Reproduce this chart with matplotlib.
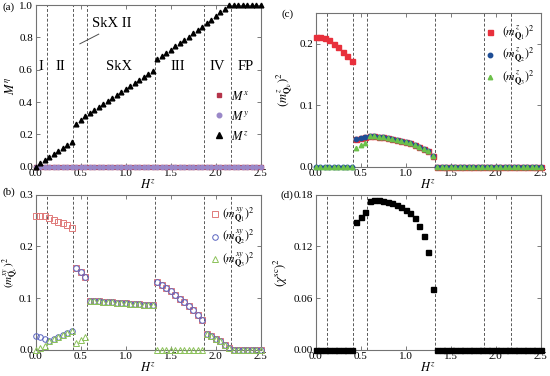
import matplotlib
matplotlib.use("Agg")
import matplotlib.pyplot as plt

plt.rcParams["font.family"] = ["Liberation Serif", "DejaVu Serif"]
plt.rcParams["mathtext.fontset"] = "stix"
plt.rcParams["font.size"] = 8

# ---------------------------------------------------------------------
# Data
# ---------------------------------------------------------------------
H = [0.00, 0.05, 0.10, 0.15, 0.20, 0.25, 0.30, 0.35, 0.40, 0.45,
     0.50, 0.55, 0.60, 0.65, 0.70, 0.75, 0.80, 0.85, 0.90, 0.95,
     1.00, 1.05, 1.10, 1.15, 1.20, 1.25, 1.30, 1.35, 1.40, 1.45,
     1.50, 1.55, 1.60, 1.65, 1.70, 1.75, 1.80, 1.85, 1.90, 1.95,
     2.00, 2.05, 2.10, 2.15, 2.20, 2.25, 2.30, 2.35, 2.40, 2.45, 2.50]

boundaries = [0.12, 0.415, 0.565, 1.32, 1.875, 2.17]
phase_names = ["I", "II", "SkX", "III", "IV", "FP"]
phase_x = [0.06, 0.27, 0.93, 1.58, 2.02, 2.33]

# (a) magnetization
Mx = [0.0] * 51
My = [0.0] * 51
Mz = [0.000, 0.020, 0.040, 0.058, 0.078, 0.097, 0.117, 0.136, 0.155, 0.265,
      0.288, 0.312, 0.335, 0.353, 0.372, 0.390, 0.408, 0.426, 0.445, 0.463,
      0.482, 0.500, 0.519, 0.538, 0.556, 0.575, 0.595, 0.665, 0.685, 0.705,
      0.725, 0.745, 0.765, 0.785, 0.805, 0.825, 0.845, 0.866, 0.888, 0.910,
      0.932, 0.954, 0.977, 1.000, 1.000, 1.000, 1.000, 1.000, 1.000, 1.000, 1.000]

# (b) in-plane structure factors
mxy_Q1 = [0.259, 0.259, 0.258, 0.255, 0.251, 0.248, 0.245, 0.241, 0.236, 0.158,
          0.150, 0.141, 0.095, 0.094, 0.094, 0.093, 0.093, 0.092, 0.091, 0.091,
          0.090, 0.089, 0.089, 0.088, 0.087, 0.087, 0.086, 0.131, 0.126, 0.120,
          0.113, 0.106, 0.099, 0.092, 0.084, 0.076, 0.067, 0.057, 0.030, 0.026,
          0.021, 0.016, 0.010, 0.004, 0.0, 0.0, 0.0, 0.0, 0.0, 0.0, 0.0]
mxy_Q2 = [0.026, 0.024, 0.021, 0.016, 0.020, 0.024, 0.028, 0.032, 0.037, 0.158,
          0.150, 0.141, 0.095, 0.094, 0.094, 0.093, 0.093, 0.092, 0.091, 0.091,
          0.090, 0.089, 0.089, 0.088, 0.087, 0.087, 0.086, 0.131, 0.126, 0.120,
          0.113, 0.106, 0.099, 0.092, 0.084, 0.076, 0.067, 0.057, 0.030, 0.026,
          0.021, 0.016, 0.010, 0.004, 0.0, 0.0, 0.0, 0.0, 0.0, 0.0, 0.0]
mxy_Q3 = [0.000, 0.003, 0.007, 0.016, 0.020, 0.024, 0.028, 0.032, 0.037, 0.012,
          0.018, 0.024, 0.095, 0.094, 0.094, 0.093, 0.093, 0.092, 0.091, 0.091,
          0.090, 0.089, 0.089, 0.088, 0.087, 0.087, 0.086, 0.0, 0.0, 0.0,
          0.0, 0.0, 0.0, 0.0, 0.0, 0.0, 0.0, 0.0, 0.030, 0.026,
          0.021, 0.016, 0.010, 0.004, 0.0, 0.0, 0.0, 0.0, 0.0, 0.0, 0.0]

# (c) out-of-plane structure factors
mz_Q1 = [0.211, 0.211, 0.209, 0.205, 0.200, 0.194, 0.187, 0.180, 0.171, 0.045,
         0.047, 0.049, 0.050, 0.050, 0.049, 0.048, 0.047, 0.045, 0.044, 0.042,
         0.040, 0.038, 0.035, 0.032, 0.029, 0.025, 0.018, 0.0, 0.0, 0.0,
         0.0, 0.0, 0.0, 0.0, 0.0, 0.0, 0.0, 0.0, 0.0, 0.0,
         0.0, 0.0, 0.0, 0.0, 0.0, 0.0, 0.0, 0.0, 0.0, 0.0, 0.0]
mz_Q2 = [0.0, 0.0, 0.0, 0.0, 0.0, 0.0, 0.0, 0.0, 0.0, 0.045,
         0.047, 0.049, 0.050, 0.050, 0.049, 0.048, 0.047, 0.045, 0.044, 0.042,
         0.040, 0.038, 0.035, 0.032, 0.029, 0.025, 0.018, 0.0, 0.0, 0.0,
         0.0, 0.0, 0.0, 0.0, 0.0, 0.0, 0.0, 0.0, 0.0, 0.0,
         0.0, 0.0, 0.0, 0.0, 0.0, 0.0, 0.0, 0.0, 0.0, 0.0, 0.0]
mz_Q3 = [0.0, 0.0, 0.0, 0.0, 0.0, 0.0, 0.0, 0.0, 0.0, 0.031,
         0.035, 0.038, 0.050, 0.050, 0.049, 0.048, 0.047, 0.045, 0.044, 0.042,
         0.040, 0.038, 0.035, 0.032, 0.029, 0.025, 0.018, 0.0, 0.0, 0.0,
         0.0, 0.0, 0.0, 0.0, 0.0, 0.0, 0.0, 0.0, 0.0, 0.0,
         0.0, 0.0, 0.0, 0.0, 0.0, 0.0, 0.0, 0.0, 0.0, 0.0, 0.0]

# (d) scalar chirality
chi_sc = [0.0, 0.0, 0.0, 0.0, 0.0, 0.0, 0.0, 0.0, 0.0, 0.148,
          0.154, 0.160, 0.173, 0.174, 0.174, 0.173, 0.1715, 0.170, 0.168, 0.166,
          0.1626, 0.1587, 0.153, 0.144, 0.132, 0.113, 0.071, 0.0, 0.0, 0.0,
          0.0, 0.0, 0.0, 0.0, 0.0, 0.0, 0.0, 0.0, 0.0, 0.0,
          0.0, 0.0, 0.0, 0.0, 0.0, 0.0, 0.0, 0.0, 0.0, 0.0, 0.0]

# ---------------------------------------------------------------------
# Figure
# ---------------------------------------------------------------------
fig = plt.figure(figsize=(5.5, 3.76), dpi=100)
ax_a = fig.add_axes([0.065, 0.5566, 0.409, 0.430])
ax_c = fig.add_axes([0.5745, 0.5566, 0.4085, 0.4096])
ax_b = fig.add_axes([0.065, 0.070, 0.409, 0.412])
ax_d = fig.add_axes([0.5745, 0.070, 0.4085, 0.412])


def style(ax):
    ax.set_xlim(0, 2.5)
    ax.set_xticks([0, 0.5, 1.0, 1.5, 2.0, 2.5])
    ax.tick_params(direction="in", top=True, right=True, length=3,
                   width=0.6, labelsize=8, pad=2, color="0.4")
    for s in ax.spines.values():
        s.set_color("0.45")
        s.set_linewidth(0.8)
    for b in boundaries:
        ax.axvline(b, color="0.35", ls=(0, (3, 2)), lw=0.7, zorder=1)
    ax.set_xlabel(r"$H^z$", fontsize=9, labelpad=0)


for ax in (ax_a, ax_b, ax_c, ax_d):
    style(ax)

# (a)
ax_a.plot(H, Mx, ls="none", marker="s", ms=3, color="#b5344a",
          clip_on=False, zorder=3, label=r"$M^x$")
ax_a.plot(H, My, ls="none", marker="o", ms=3, color="#9a88c8",
          clip_on=False, zorder=4, label=r"$M^y$")
ax_a.plot(H, Mz, ls="none", marker="^", ms=3.4, color="black",
          clip_on=False, zorder=5, label=r"$M^z$")
ax_a.set_ylim(0, 1.0)
ax_a.set_yticks([0, 0.2, 0.4, 0.6, 0.8, 1.0])
ax_a.set_ylabel(r"$M^\eta$", fontsize=9)
ax_a.yaxis.set_label_coords(-0.085, 0.5)
for name, x in zip(phase_names, phase_x):
    ax_a.text(x, 0.62, name, ha="center", va="center", fontsize=10.5)
ax_a.text(0.84, 0.885, "SkX II", ha="center", va="center", fontsize=10.5)
ax_a.plot([0.49, 0.70], [0.76, 0.82], color="0.3", lw=0.7)
ax_a.legend(loc="lower right", bbox_to_anchor=(1.0, 0.08), frameon=False,
            fontsize=9, handlelength=1.0, handletextpad=0.5,
            labelspacing=0.55, markerscale=1.1)
fig.text(0.005, 0.975, "(a)", fontsize=8)

# (b)
ax_b.plot(H, mxy_Q1, ls="none", marker="s", ms=4, mfc="none", mec="#e07a7a",
          mew=0.7, clip_on=False, zorder=3, label=r"$(m^{xy}_{\mathbf{Q}_1})^2$")
ax_b.plot(H, mxy_Q2, ls="none", marker="o", ms=4, mfc="none", mec="#5a64c0",
          mew=0.7, clip_on=False, zorder=4, label=r"$(m^{xy}_{\mathbf{Q}_2})^2$")
ax_b.plot(H, mxy_Q3, ls="none", marker="^", ms=4, mfc="none", mec="#8cc25a",
          mew=0.7, clip_on=False, zorder=5, label=r"$(m^{xy}_{\mathbf{Q}_3})^2$")
ax_b.set_ylim(0, 0.3)
ax_b.set_yticks([0, 0.1, 0.2, 0.3])
ax_b.set_ylabel(r"$(m^{xy}_{\mathbf{Q}_\nu})^2$", fontsize=8)
ax_b.yaxis.set_label_coords(-0.065, 0.5)
ax_b.legend(loc="upper right", bbox_to_anchor=(1.02, 1.0), frameon=False,
            fontsize=8.5, handlelength=0.8, handletextpad=0.2,
            labelspacing=0.3)
fig.text(0.005, 0.483, "(b)", fontsize=8)

# (c)
ax_c.plot(H, mz_Q1, ls="none", marker="s", ms=3.6, color="#e8303c",
          clip_on=False, zorder=3, label=r"$(m^{z}_{\mathbf{Q}_1})^2$")
ax_c.plot(H, mz_Q2, ls="none", marker="o", ms=3.2, color="#1f4e96",
          clip_on=False, zorder=4, label=r"$(m^{z}_{\mathbf{Q}_2})^2$")
ax_c.plot(H, mz_Q3, ls="none", marker="^", ms=3.2, color="#6cc04a",
          clip_on=False, zorder=5, label=r"$(m^{z}_{\mathbf{Q}_3})^2$")
ax_c.set_ylim(0, 0.25)
ax_c.set_yticks([0, 0.1, 0.2])
ax_c.set_ylabel(r"$(m^{z}_{\mathbf{Q}_\nu})^2$", fontsize=9, labelpad=3)
ax_c.legend(loc="upper right", bbox_to_anchor=(1.02, 1.0), frameon=False,
            fontsize=8.5, handlelength=0.8, handletextpad=0.6,
            labelspacing=0.3)
fig.text(0.512, 0.955, "(c)", fontsize=8)

# (d)
ax_d.plot(H, chi_sc, ls="none", marker="s", ms=3.6, color="black",
          clip_on=False, zorder=3)
ax_d.set_ylim(0, 0.18)
ax_d.set_yticks([0, 0.06, 0.12, 0.18])
ax_d.set_yticklabels(["0.00", "0.06", "0.12", "0.18"])
ax_d.set_ylabel(r"$(\chi^{\rm sc})^2$", fontsize=9, labelpad=3)
fig.text(0.510, 0.475, "(d)", fontsize=8)

fig.savefig("out.png", dpi=100)
